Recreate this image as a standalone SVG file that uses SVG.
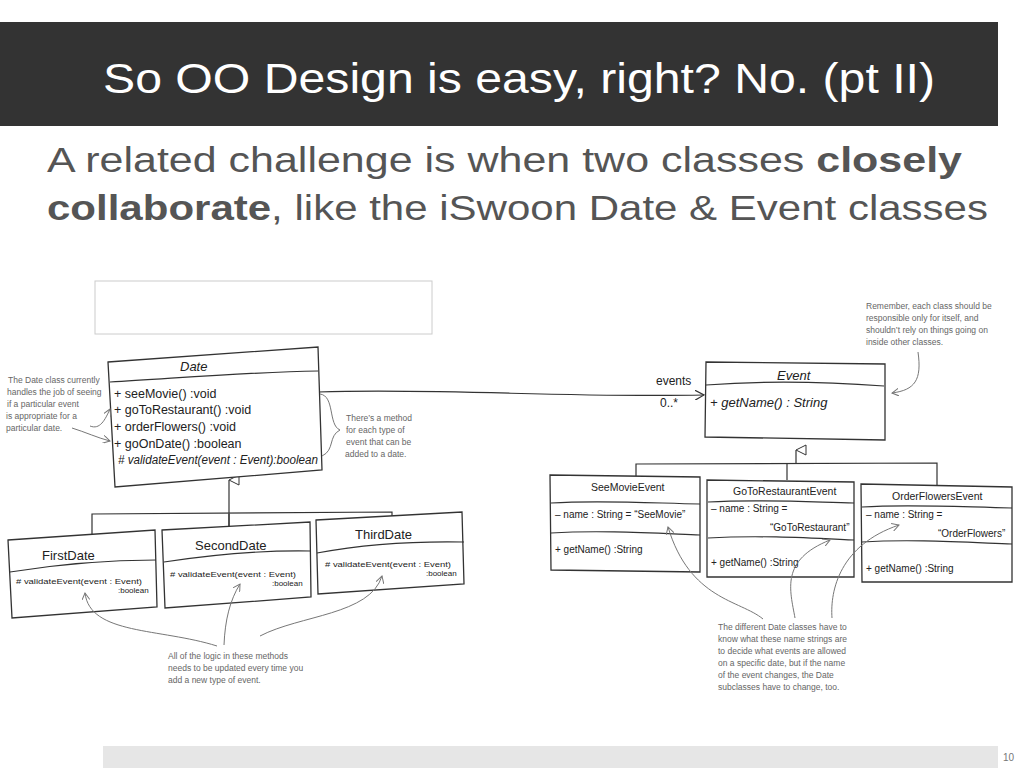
<svg xmlns="http://www.w3.org/2000/svg" width="1024" height="768" viewBox="0 0 1024 768">
<style>
.box{fill:#fff;stroke:#333;stroke-width:1.3}
.ln{fill:none;stroke:#333;stroke-width:1.2}
.an{fill:none;stroke:#777;stroke-width:1}
.t{font-family:"Liberation Sans",sans-serif;fill:#222}
.n{font-family:"Liberation Sans",sans-serif;fill:#666;font-size:8.5px}
</style>
<defs>
<marker id="open" markerWidth="10" markerHeight="10" refX="9" refY="5" orient="auto" markerUnits="userSpaceOnUse"><path d="M0,0 L9,5 L0,10" fill="none" stroke="#333" stroke-width="1.2"/></marker>
<marker id="sa" markerWidth="8" markerHeight="8" refX="7" refY="4" orient="auto" markerUnits="userSpaceOnUse"><path d="M0,0 L7,4 L0,8" fill="none" stroke="#777" stroke-width="1"/></marker>
<marker id="tri" markerWidth="12" markerHeight="12" refX="6" refY="1" orient="auto-start-reverse" markerUnits="userSpaceOnUse"><path d="M1,11 L6,1 L11,11 Z" fill="#fff" stroke="#333" stroke-width="1"/></marker>
</defs>
<rect width="1024" height="768" fill="#fff"/>
<rect x="0" y="22" width="998" height="104" fill="#333"/>
<text x="103" y="93" font-family="Liberation Sans,sans-serif" font-size="42" fill="#fff" textLength="832" lengthAdjust="spacingAndGlyphs">So OO Design is easy, right?  No. (pt II)</text>
<text x="47" y="172" class="t" font-size="35" style="fill:#555" textLength="915" lengthAdjust="spacingAndGlyphs">A related challenge is when two classes <tspan font-weight="bold">closely</tspan></text>
<text x="47" y="220" class="t" font-size="35" style="fill:#555" textLength="941" lengthAdjust="spacingAndGlyphs"><tspan font-weight="bold">collaborate</tspan>, like the iSwoon Date &amp; Event classes</text>
<rect x="95" y="281" width="337" height="53" fill="#fff" stroke="#ccc"/>
<rect x="103" y="746" width="895" height="22" fill="#e6e6e6"/>
<text x="1003" y="761" class="t" font-size="10" style="fill:#777">10</text>

<g id="connectors">
<path class="ln" d="M318,392 C450,388 560,398 704,395" marker-end="url(#open)"/>
<text x="656" y="385" class="t" font-size="12">events</text>
<text x="660" y="407" class="t" font-size="12">0..*</text>
<path class="ln" d="M229,526 L229,480" marker-end="url(#tri)"/>
<path class="ln" d="M92,537 L92,514 L392,512 L392,520"/>
<path class="ln" d="M229,514 L229,526"/>
<path class="ln" d="M796,463 L796,450" marker-end="url(#tri)"/>
<path class="ln" d="M636,476 L636,464 L937,463 L937,485"/>
<path class="ln" d="M787,463 L787,480"/>
</g>

<g id="Date">
<path class="box" d="M108,362 L318,347 L322,470 L115,487 Z"/>
<path class="ln" d="M110,382 C180,378 250,372 318,371"/>
<text x="180" y="371" class="t" font-size="13" font-style="italic">Date</text>
<text class="t" font-size="12.5"><tspan x="114" y="398">+ seeMovie() :void</tspan><tspan x="114" y="414">+ goToRestaurant() :void</tspan><tspan x="114" y="431">+ orderFlowers() :void</tspan><tspan x="114" y="448">+ goOnDate() :boolean</tspan></text>
<text x="118" y="464" class="t" font-size="12" font-style="italic" textLength="200" lengthAdjust="spacingAndGlyphs"># validateEvent(event : Event):boolean</text>
</g>
<g id="FirstDate">
<path class="box" d="M8,540 L155,530 L157,607 L12,618 Z"/>
<path class="ln" d="M10,572 C60,564 110,560 156,560"/>
<text x="42" y="560" class="t" font-size="13">FirstDate</text>
<text x="16" y="584" class="t" font-size="8" textLength="126" lengthAdjust="spacingAndGlyphs"># validateEvent(event : Event)</text>
<text x="118" y="593" class="t" font-size="8">:boolean</text>
</g>
<g id="SecondDate">
<path class="box" d="M162,530 L310,522 L311,597 L165,608 Z"/>
<path class="ln" d="M164,562 C210,555 260,550 311,551"/>
<text x="195" y="550" class="t" font-size="13">SecondDate</text>
<text x="170" y="577" class="t" font-size="8" textLength="126" lengthAdjust="spacingAndGlyphs"># validateEvent(event : Event)</text>
<text x="272" y="586" class="t" font-size="8">:boolean</text>
</g>
<g id="ThirdDate">
<path class="box" d="M316,520 L462,512 L464,584 L318,594 Z"/>
<path class="ln" d="M317,553 C360,545 410,541 464,542"/>
<text x="355" y="539" class="t" font-size="13">ThirdDate</text>
<text x="325" y="567" class="t" font-size="8" textLength="126" lengthAdjust="spacingAndGlyphs"># validateEvent(event : Event)</text>
<text x="426" y="576" class="t" font-size="8">:boolean</text>
</g>

<g id="Event">
<path class="box" d="M706,362 L885,364 L885,440 L705,437 Z"/>
<path class="ln" d="M706,385 C770,380 830,382 884,386"/>
<text x="777" y="380" class="t" font-size="13" font-style="italic">Event</text>
<text x="710" y="407" class="t" font-size="13" font-style="italic">+ getName() : String</text>
</g>
<g id="SeeMovieEvent">
<path class="box" d="M550,475 L700,477 L700,572 L551,570 Z"/>
<path class="ln" d="M551,503 C600,500 650,503 700,504"/>
<path class="ln" d="M551,533 C600,530 650,533 700,535"/>
<text x="591" y="491" class="t" font-size="10.5">SeeMovieEvent</text>
<text x="555" y="518" class="t" font-size="10">– name : String = “SeeMovie”</text>
<text x="555" y="553" class="t" font-size="10">+ getName() :String</text>
</g>
<g id="GoToRestaurantEvent">
<path class="box" d="M707,480 L854,482 L854,577 L707,577 Z"/>
<path class="ln" d="M708,502 C760,499 810,502 854,503"/>
<path class="ln" d="M708,538 C760,535 810,538 854,540"/>
<text x="733" y="495" class="t" font-size="10.5">GoToRestaurantEvent</text>
<text x="711" y="512" class="t" font-size="10">– name : String =</text>
<text x="770" y="531" class="t" font-size="10">“GoToRestaurant”</text>
<text x="711" y="566" class="t" font-size="10">+ getName() :String</text>
</g>
<g id="OrderFlowersEvent">
<path class="box" d="M861,484 L1012,487 L1012,582 L862,582 Z"/>
<path class="ln" d="M862,507 C910,504 960,507 1012,508"/>
<path class="ln" d="M862,542 C910,539 960,542 1012,544"/>
<text x="892" y="500" class="t" font-size="10.5">OrderFlowersEvent</text>
<text x="866" y="518" class="t" font-size="10">– name : String =</text>
<text x="938" y="537" class="t" font-size="10">“OrderFlowers”</text>
<text x="866" y="572" class="t" font-size="10">+ getName() :String</text>
</g>

<g id="notes">
<text class="n"><tspan x="8" y="383">The Date class currently</tspan><tspan x="7" y="395">handles the job of seeing</tspan><tspan x="7" y="407">if a particular event</tspan><tspan x="6" y="419">is appropriate for a</tspan><tspan x="6" y="431">particular date.</tspan></text>
<path class="an" d="M90,426 C100,430 105,420 110,409" marker-end="url(#sa)"/>
<path class="an" d="M72,428 C85,432 98,438 110,441" marker-end="url(#sa)"/>
<text class="n"><tspan x="346" y="421">There’s a method</tspan><tspan x="346" y="433">for each type of</tspan><tspan x="346" y="445">event that can be</tspan><tspan x="345" y="457">added to a date.</tspan></text>
<path class="an" d="M320,394 C335,396 328,425 340,430 C328,436 335,450 322,456"/>
<text class="n"><tspan x="168" y="659">All of the logic in these methods</tspan><tspan x="168" y="671">needs to be updated every time you</tspan><tspan x="168" y="683">add a new type of event.</tspan></text>
<path class="an" d="M217,646 C160,628 90,635 85,593" marker-end="url(#sa)"/>
<path class="an" d="M224,645 C225,620 230,600 240,584" marker-end="url(#sa)"/>
<path class="an" d="M260,636 C300,615 370,615 382,576" marker-end="url(#sa)"/>
<text class="n"><tspan x="866" y="309">Remember, each class should be</tspan><tspan x="866" y="321">responsible only for itself, and</tspan><tspan x="866" y="333">shouldn’t rely on things going on</tspan><tspan x="866" y="345">inside other classes.</tspan></text>
<path class="an" d="M918,352 C922,380 915,390 892,393" marker-end="url(#sa)"/>
<text class="n"><tspan x="718" y="630">The different Date classes have to</tspan><tspan x="718" y="642">know what these name strings are</tspan><tspan x="718" y="654">to decide what events are allowed</tspan><tspan x="718" y="666">on a specific date, but if the name</tspan><tspan x="718" y="678">of the event changes, the Date</tspan><tspan x="718" y="690">subclasses have to change, too.</tspan></text>
<path class="an" d="M763,619 C740,600 690,600 668,527" marker-end="url(#sa)"/>
<path class="an" d="M795,618 C790,590 780,560 830,540" marker-end="url(#sa)"/>
<path class="an" d="M832,618 C830,590 840,545 899,525" marker-end="url(#sa)"/>
</g>
</svg>
